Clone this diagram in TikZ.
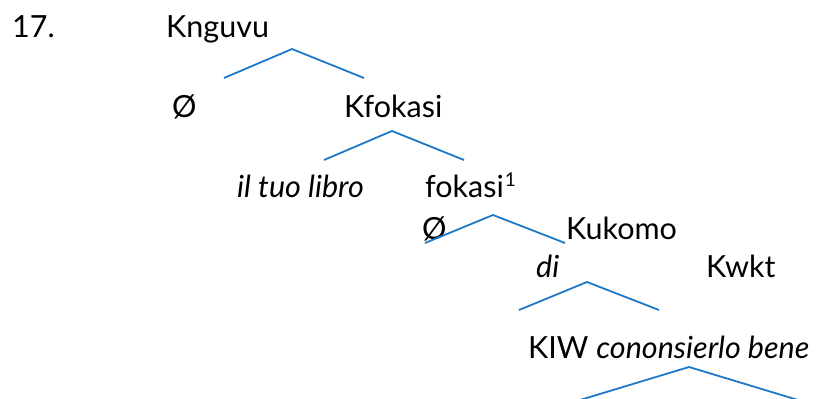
\documentclass[tikz,border=0pt]{standalone}
\usepackage{fontspec}
\setmainfont{Lato}
\definecolor{treeblue}{HTML}{1E78C8}
\tikzset{
  lbl/.style={anchor=base west, inner sep=0pt, font=\fontsize{30.5}{34}\selectfont},
  branch/.style={draw=treeblue, line width=1.8pt},
}
\begin{document}
\begin{tikzpicture}[x=1pt,y=-1pt]
\useasboundingbox (0,0) rectangle (823,399);
\node[lbl] (num) at (12,37) {17.};
\node[lbl] (n1) at (166,37) {Knguvu};
\node[lbl] (z1) at (172,117) {Ø};
\node[lbl] (n2) at (344,117) {Kfokasi};
\node[lbl] (l1) at (237,197) {\itshape il tuo libro};
\node[lbl] (n3) at (425,197) {fokasi\hspace{1pt}\raisebox{11pt}{\fontsize{19}{19}\selectfont 1}};
\node[lbl] (z2) at (422,239) {Ø};
\node[lbl] (n4) at (566,239) {Kukomo};
\node[lbl] (d1) at (536,277) {\itshape di};
\node[lbl] (n5) at (706,277) {Kwkt};
\node[lbl] (n6) at (528,358) {KIW \itshape cononsierlo bene};
% branch coordinates
\coordinate (a1) at (292,49); \coordinate (a1l) at (224,78); \coordinate (a1r) at (364,78);
\coordinate (a2) at (392,131); \coordinate (a2l) at (324,160); \coordinate (a2r) at (464,160);
\coordinate (a3) at (493,215); \coordinate (a3l) at (425,243); \coordinate (a3r) at (565,243);
\coordinate (a4) at (587,282); \coordinate (a4l) at (519,310); \coordinate (a4r) at (659,310);
\coordinate (a5) at (689,367); \coordinate (a5l) at (580,400); \coordinate (a5r) at (798,400);
\begin{scope}
\clip (0,0) rectangle (823,399);
\draw[branch] (a1l) -- (a1) -- (a1r);
\draw[branch] (a2l) -- (a2) -- (a2r);
\draw[branch] (a3l) -- (a3) -- (a3r);
\draw[branch] (a4l) -- (a4) -- (a4r);
\draw[branch] (a5l) -- (a5) -- (a5r);
\end{scope}
\end{tikzpicture}
\end{document}
